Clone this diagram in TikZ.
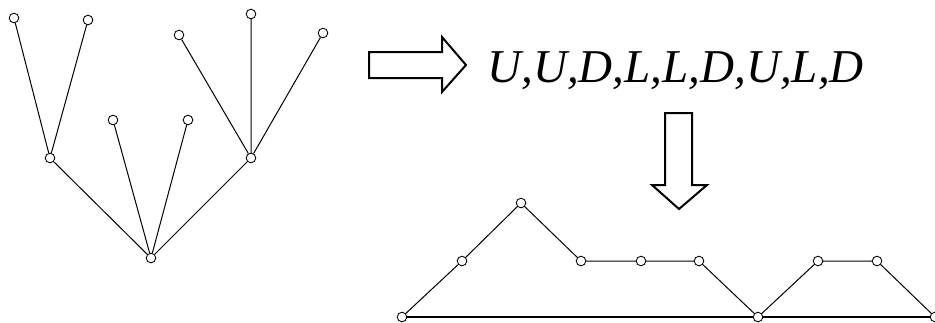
\documentclass[tikz,border=0pt]{standalone}
\usepackage{fontspec}
\setmainfont{Liberation Serif}
\begin{document}
\begin{tikzpicture}[x=0.75pt,y=-0.75pt,
  vtx/.style={circle,draw,fill=white,inner sep=0pt,minimum size=7.2pt,line width=0.65pt},
  edge/.style={line width=0.75pt},
  bigarrow/.style={line width=1.5pt,line join=miter}]
\useasboundingbox (0,0) rectangle (935,322);
% tree
\node[vtx] (r)  at (151,258) {};
\node[vtx] (a)  at (50,158) {};
\node[vtx] (b)  at (251,158) {};
\node[vtx] (m1) at (113,120) {};
\node[vtx] (m2) at (188,120) {};
\node[vtx] (a1) at (14,18) {};
\node[vtx] (a2) at (88,20) {};
\node[vtx] (b1) at (179,35) {};
\node[vtx] (b2) at (251,14) {};
\node[vtx] (b3) at (323,33) {};
\draw[edge] (r)--(a) (r)--(m1) (r)--(m2) (r)--(b)
  (a)--(a1) (a)--(a2) (b)--(b1) (b)--(b2) (b)--(b3);
% right arrow
\draw[bigarrow] (369,52) -- (442,52) -- (442,37) -- (466,65) -- (442,92) -- (442,78) -- (369,78) -- cycle;
% text
\node[anchor=base west,inner sep=0pt,font=\fontsize{35.3}{40}\selectfont\itshape] (seq) at (487,82) {U,U,D,L,L,D,U,L,D};
% down arrow
\draw[bigarrow] (665,113) -- (692,113) -- (692,185) -- (707,185) -- (679,209) -- (652,185) -- (665,185) -- cycle;
% path
\node[vtx] (p0) at (402,317) {};
\node[vtx] (p1) at (462,261) {};
\node[vtx] (p2) at (521,203) {};
\node[vtx] (p3) at (581,261) {};
\node[vtx] (p4) at (641,261) {};
\node[vtx] (p5) at (699,261) {};
\node[vtx] (p6) at (758,317) {};
\node[vtx] (p7) at (818,261) {};
\node[vtx] (p8) at (877,261) {};
\node[vtx] (p9) at (935,317) {};
\draw[edge,line width=1.1pt] (p0)--(p6) (p6)--(p9);
\draw[edge] (p0)--(p1) (p1)--(p2) (p2)--(p3) (p3)--(p4) (p4)--(p5) (p5)--(p6) (p6)--(p7) (p7)--(p8) (p8)--(p9);
\end{tikzpicture}
\end{document}
